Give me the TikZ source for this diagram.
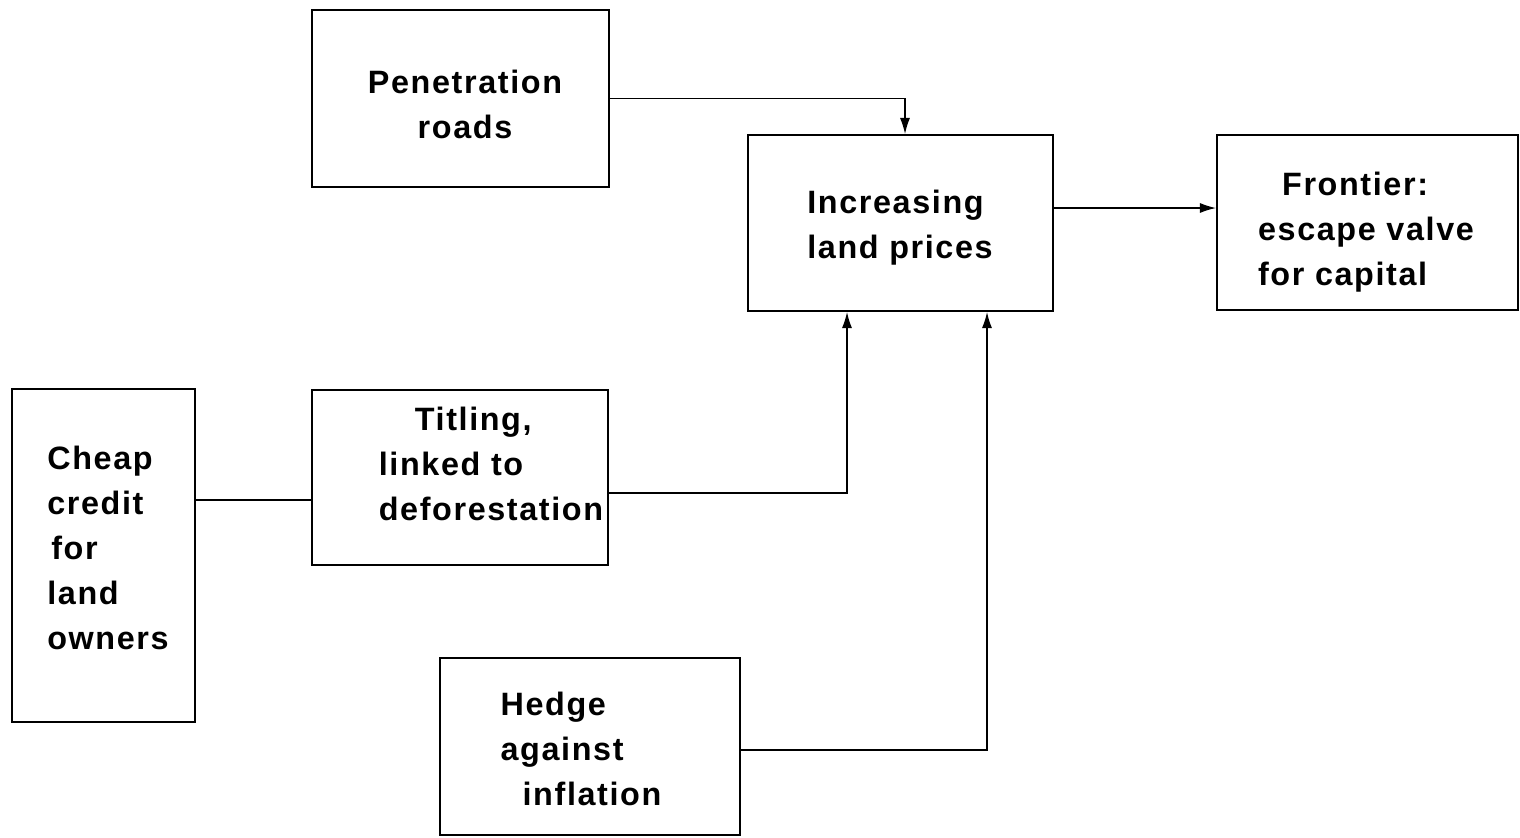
\documentclass[tikz,border=0pt]{standalone}
\usepackage{fontspec}
\setmainfont{Liberation Sans}
\newfontfamily\boxfont[LetterSpace=5]{Liberation Sans}
\usepackage{tikz}
\usetikzlibrary{arrows.meta, positioning, calc}

\begin{document}
\begin{tikzpicture}[
    x=0.025cm, y=-0.025cm,
    box/.style={rectangle, draw, line width=1.4pt, inner sep=0pt},
    txt/.style={font=\boxfont\bfseries\fontsize{23}{32}\selectfont, inner sep=0pt},
    arrow/.style={-{Latex[length=0.4cm, width=0.25cm]}, line width=0.9pt}
]
\useasboundingbox (0,0) rectangle (1520,837);

% boxes
\node[box, minimum width=7.425cm, minimum height=4.425cm] (roads) at (460.5,98.5) {};
\node[box, minimum width=7.625cm, minimum height=4.4cm] (prices) at (900.5,223) {};
\node[box, minimum width=7.525cm, minimum height=4.375cm] (frontier) at (1367.5,222.5) {};
\node[box, minimum width=7.4cm, minimum height=4.375cm] (titling) at (460,477.5) {};
\node[box, minimum width=4.575cm, minimum height=8.325cm] (credit) at (103.5,555.5) {};
\node[box, minimum width=7.5cm, minimum height=4.425cm] (hedge) at (590,746.5) {};

% texts
\node[txt, align=center] (roadstxt) at (465,104) {Penetration\\roads};
\node[txt, align=left] (pricestxt) at (900,228) {Increasing\\land prices};
\node[txt, align=left] (frontiertxt) at (1366,232) {\hspace*{0.6cm}Frontier:\\escape valve\\for capital};
\node[txt, align=left] (titlingtxt) at (491,464) {\hspace*{0.9cm}Titling,\\linked to\\deforestation};
\node[txt, align=left] (credittxt) at (108,548) {Cheap\\credit\\\hspace*{0.1cm}for\\land\\owners};
\node[txt, align=left] (hedgetxt) at (581,749) {Hedge\\against\\\hspace*{0.55cm}inflation};

% connectors
\draw[arrow] (roads.east) -| ($(prices.north)+(4.5,0)$);
\draw[arrow] ($(prices.east)+(0,-15)$) -- ($(frontier.west)+(0,-14.5)$);
\draw[line width=0.9pt] ($(titling.west)+(0,22.5)$) -- ($(credit.east |- titling.west)+(0,22.5)$);
\draw[arrow] ($(titling.east)+(0,15.5)$) -| ($(prices.south)+(-53.5,0)$);
\draw[arrow] ($(hedge.east)+(0,3.5)$) -| ($(prices.south)+(86.5,0)$);
\end{tikzpicture}
\end{document}
